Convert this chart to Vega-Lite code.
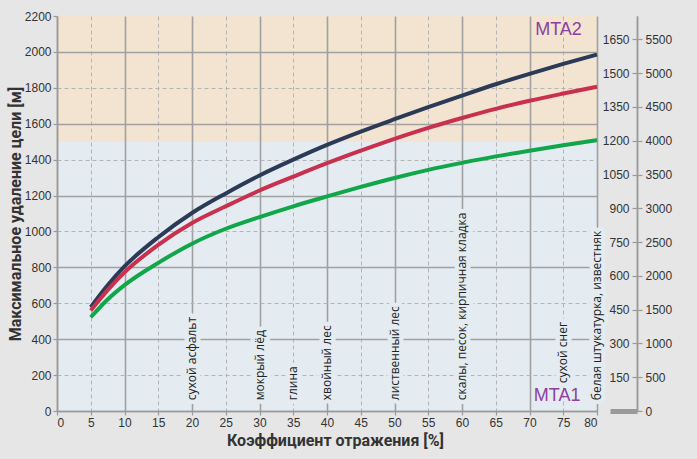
{
  "$schema": "https://vega.github.io/schema/vega-lite/v6.json",
  "width": 540,
  "height": 395,
  "autosize": {"type": "none"},
  "padding": {"left": 57, "top": 16, "right": 100, "bottom": 48},
  "background": "#e6e6e6",
  "config": {
    "view": {
      "stroke": null,
      "fill": {"gradient": "linear", "x1": 0, "y1": 0, "x2": 0, "y2": 1,
        "stops": [
          {"offset": 0, "color": "#f3e4d1"},
          {"offset": 0.3182, "color": "#f3e4d1"},
          {"offset": 0.3182, "color": "#e4ecf1"},
          {"offset": 1, "color": "#e4ecf1"}
        ]}
    },
    "axis": {
      "labelFont": "Liberation Sans",
      "labelFontSize": 12,
      "labelColor": "#333333",
      "labelOverlap": false,
      "format": "d",
      "domainColor": "#9a9a9a",
      "domainWidth": 1.5,
      "tickColor": "#9a9a9a",
      "tickWidth": 1.2,
      "titleFont": "Roboto",
      "titleFontSize": 16,
      "titleFontWeight": "bold",
      "titleColor": "#333333"
    }
  },
  "datasets": {
    "curves": [
      {"refl": 5, "range": 578, "series": "1"},
      {"refl": 7.5, "range": 700, "series": "1"},
      {"refl": 10, "range": 805, "series": "1"},
      {"refl": 15, "range": 968, "series": "1"},
      {"refl": 20, "range": 1103, "series": "1"},
      {"refl": 25, "range": 1212, "series": "1"},
      {"refl": 30, "range": 1312, "series": "1"},
      {"refl": 35, "range": 1400, "series": "1"},
      {"refl": 40, "range": 1482, "series": "1"},
      {"refl": 45, "range": 1556, "series": "1"},
      {"refl": 50, "range": 1625, "series": "1"},
      {"refl": 55, "range": 1692, "series": "1"},
      {"refl": 60, "range": 1757, "series": "1"},
      {"refl": 65, "range": 1820, "series": "1"},
      {"refl": 70, "range": 1878, "series": "1"},
      {"refl": 75, "range": 1933, "series": "1"},
      {"refl": 80, "range": 1985, "series": "1"},
      {"refl": 5, "range": 560, "series": "2"},
      {"refl": 7.5, "range": 673, "series": "2"},
      {"refl": 10, "range": 772, "series": "2"},
      {"refl": 15, "range": 925, "series": "2"},
      {"refl": 20, "range": 1047, "series": "2"},
      {"refl": 25, "range": 1140, "series": "2"},
      {"refl": 30, "range": 1228, "series": "2"},
      {"refl": 35, "range": 1305, "series": "2"},
      {"refl": 40, "range": 1380, "series": "2"},
      {"refl": 45, "range": 1450, "series": "2"},
      {"refl": 50, "range": 1516, "series": "2"},
      {"refl": 55, "range": 1577, "series": "2"},
      {"refl": 60, "range": 1632, "series": "2"},
      {"refl": 65, "range": 1683, "series": "2"},
      {"refl": 70, "range": 1728, "series": "2"},
      {"refl": 75, "range": 1768, "series": "2"},
      {"refl": 80, "range": 1806, "series": "2"},
      {"refl": 5, "range": 522, "series": "3"},
      {"refl": 7.5, "range": 621, "series": "3"},
      {"refl": 10, "range": 701, "series": "3"},
      {"refl": 15, "range": 825, "series": "3"},
      {"refl": 20, "range": 932, "series": "3"},
      {"refl": 25, "range": 1015, "series": "3"},
      {"refl": 30, "range": 1080, "series": "3"},
      {"refl": 35, "range": 1140, "series": "3"},
      {"refl": 40, "range": 1195, "series": "3"},
      {"refl": 45, "range": 1248, "series": "3"},
      {"refl": 50, "range": 1298, "series": "3"},
      {"refl": 55, "range": 1343, "series": "3"},
      {"refl": 60, "range": 1382, "series": "3"},
      {"refl": 65, "range": 1418, "series": "3"},
      {"refl": 70, "range": 1450, "series": "3"},
      {"refl": 75, "range": 1480, "series": "3"},
      {"refl": 80, "range": 1509, "series": "3"}
    ],
    "materials": [
      {"refl": 20, "range": 60, "material": "сухой асфальт"},
      {"refl": 30, "range": 60, "material": "мокрый лёд"},
      {"refl": 35, "range": 60, "material": "глина"},
      {"refl": 40, "range": 60, "material": "хвойный лес"},
      {"refl": 50, "range": 60, "material": "лиственный лес"},
      {"refl": 60, "range": 60, "material": "скалы, песок, кирпичная кладка"},
      {"refl": 75, "range": 155, "material": "сухой снег"},
      {"refl": 80, "range": 60, "material": "белая штукатурка, известняк"}
    ],
    "zones": [
      {"refl": 74.3, "range": 2124, "zone": "MTA2"},
      {"refl": 74.1, "range": 81, "zone": "MTA1"}
    ],
    "scale2": [{"v": 0}, {"v": 1754}],
    "scale3": [{"v": 0}, {"v": 5847}]
  },
  "layer": [
    {
      "encoding": {
        "x": {
          "field": "refl", "type": "quantitative",
          "scale": {"domain": [0, 80], "nice": false},
          "axis": {
            "values": [0, 5, 10, 15, 20, 25, 30, 35, 40, 45, 50, 55, 60, 65, 70, 75, 80],
            "title": "Коэффициент отражения [%]",
            "titleX": 278,
            "titleY": 34,
            "titleBaseline": "alphabetic",
            "tickSize": 4,
            "labelPadding": 2,
            "grid": true,
            "gridDash": {"condition": {"test": "datum.value % 10 === 0", "value": []}, "value": [4, 3]},
            "gridColor": {"condition": {"test": "datum.value % 10 === 0", "value": "#a0a0a0"}, "value": "#b4b4b4"},
            "gridWidth": {"condition": {"test": "datum.value % 10 === 0", "value": 1.6}, "value": 1}
          }
        },
        "y": {
          "field": "range", "type": "quantitative",
          "scale": {"domain": [0, 2200], "nice": false},
          "axis": {
            "values": [0, 200, 400, 600, 800, 1000, 1200, 1400, 1600, 1800, 2000, 2200],
            "title": "Максимальное удаление цели [м]",
            "titleX": -42,
            "titleBaseline": "middle",
            "tickSize": 4,
            "labelPadding": 2,
            "grid": true,
            "gridDash": {"condition": {"test": "datum.value % 400 === 0", "value": []}, "value": [4, 3]},
            "gridColor": {"condition": {"test": "datum.value % 400 === 0", "value": "#a0a0a0"}, "value": "#b4b4b4"},
            "gridWidth": {"condition": {"test": "datum.value % 400 === 0", "value": 1.6}, "value": 1},
            "gridOpacity": {"condition": {"test": "datum.value === 2200", "value": 0}, "value": 1}
          }
        }
      },
      "layer": [
        {
          "data": {"name": "curves"},
          "mark": {"type": "line", "strokeWidth": 4, "interpolate": "monotone"},
          "encoding": {
            "color": {
              "field": "series", "type": "nominal",
              "scale": {"domain": ["1", "2", "3"], "range": ["#2b3a57", "#c8304e", "#12a64a"]},
              "legend": null
            }
          }
        },
        {
          "data": {"name": "materials"},
          "mark": {"type": "text", "angle": 270, "align": "left", "baseline": "middle",
            "font": "Open Sans", "fontSize": 12, "color": "#e4ecf1",
            "stroke": "#e4ecf1", "strokeWidth": 9, "strokeJoin": "round"},
          "encoding": {
            "text": {"field": "material"}
          }
        },
        {
          "data": {"name": "materials"},
          "mark": {"type": "text", "angle": 270, "align": "left", "baseline": "middle",
            "font": "Open Sans", "fontSize": 12, "color": "#222222"},
          "encoding": {
            "text": {"field": "material"}
          }
        },
        {
          "data": {"name": "zones"},
          "mark": {"type": "text", "align": "center", "baseline": "middle",
            "font": "Liberation Sans", "fontSize": 18, "color": "#8c3f9f"},
          "encoding": {
            "text": {"field": "zone"}
          }
        }
      ]
    },
    {
      "data": {"name": "scale2"},
      "mark": {"type": "point", "opacity": 0},
      "encoding": {
        "y": {
          "field": "v", "type": "quantitative",
          "scale": {"domain": [0, 1754], "nice": false},
          "axis": {
            "orient": "left", "offset": -580, "title": null, "grid": false,
            "values": [0, 150, 300, 450, 600, 750, 900, 1050, 1200, 1350, 1500, 1650],
            "labelExpr": "datum.value === 0 ? '' : datum.label",
            "labelPadding": 3,
            "tickSize": {"condition": {"test": "datum.value === 0", "value": 27}, "value": 5},
            "tickWidth": {"condition": {"test": "datum.value === 0", "value": 5}, "value": 1.2}
          }
        }
      }
    },
    {
      "data": {"name": "scale3"},
      "mark": {"type": "point", "opacity": 0},
      "encoding": {
        "y": {
          "field": "v", "type": "quantitative",
          "scale": {"domain": [0, 5847], "nice": false},
          "axis": {
            "orient": "right", "offset": 40, "title": null, "grid": false,
            "values": [0, 500, 1000, 1500, 2000, 2500, 3000, 3500, 4000, 4500, 5000, 5500],
            "labelPadding": 3,
            "tickSize": 5
          }
        }
      }
    }
  ],
  "resolve": {"scale": {"y": "independent"}, "axis": {"y": "independent"}}
}
